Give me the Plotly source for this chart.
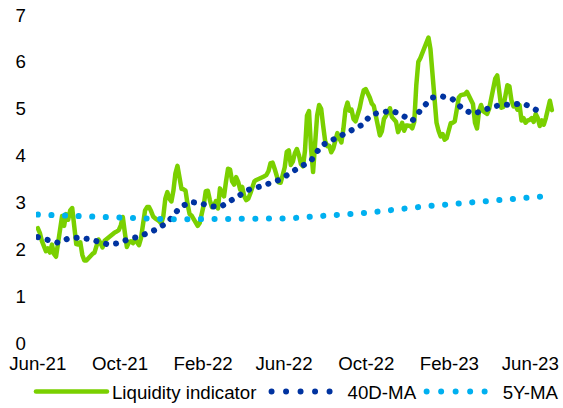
import pandas as pd
import plotly.graph_objects as go

# ---- data ----
liquidity = [
    2.45, 2.35, 2.18, 2.08, 1.96, 2.02, 1.93, 2.10, 1.90, 1.84,
    2.15, 2.52, 2.71, 2.50, 2.75, 2.63, 2.83, 2.88, 2.40, 2.11,
    2.10, 2.15, 1.88, 1.76, 1.76, 1.82, 1.86, 1.90, 1.93, 2.09,
    2.21, 2.13, 2.04, 2.18, 2.22, 2.27, 2.31, 2.34, 2.36, 2.38,
    2.41, 2.51, 2.69, 2.36, 2.05, 2.15, 2.17, 2.13, 2.22, 2.15,
    2.09, 2.24, 2.55, 2.83, 2.90, 2.90, 2.81, 2.70, 2.66, 2.64,
    2.60, 2.55, 2.70, 3.08, 3.22, 3.08, 3.02, 3.25, 3.62, 3.78,
    3.57, 3.29, 3.28, 3.25, 2.96, 2.75, 2.72, 2.65, 2.57, 2.50,
    2.56, 2.75, 2.95, 3.24, 3.25, 3.05, 2.90, 2.93, 3.03, 2.87,
    3.30, 3.20, 3.13, 3.45, 3.72, 3.70, 3.45, 3.38, 3.54, 3.44,
    3.27, 3.33, 3.13, 3.05, 3.08, 3.19, 3.35, 3.45, 3.48, 3.50,
    3.51, 3.52, 3.56, 3.59, 3.67, 3.84, 3.85, 3.72, 3.55, 3.43,
    3.42, 3.55, 3.75, 4.08, 4.11, 3.80, 3.87, 4.05, 4.14, 4.01,
    3.82, 3.77, 4.10, 4.85, 4.95, 4.15, 3.65, 4.25, 4.85, 5.08,
    5.00, 4.63, 4.30, 4.20, 4.21, 4.07, 4.15, 4.32, 4.48, 4.37,
    4.28, 4.58, 4.98, 5.13, 4.96, 4.98, 4.78, 4.73, 4.86, 5.01,
    5.22, 5.39, 5.42, 5.35, 5.24, 5.11, 5.06, 4.85, 4.65, 4.43,
    4.52, 4.78, 4.85, 4.92, 5.01, 4.82, 4.76, 4.72, 4.50, 4.60,
    4.70, 4.53, 4.64, 4.64, 4.63, 4.58, 4.72, 5.50, 6.00, 6.08,
    6.20, 6.33, 6.44, 6.52, 6.27, 5.70, 5.05, 4.70, 4.53, 4.41,
    4.46, 4.34, 4.37, 4.55, 4.69, 4.70, 4.73, 4.98, 5.24, 5.29,
    5.30, 5.31, 5.36, 5.28, 5.21, 5.10, 4.70, 4.58, 4.95, 5.08,
    4.95, 4.92, 4.89, 5.00, 5.22, 5.42, 5.64, 5.71, 5.40, 5.02,
    5.04, 5.28, 5.50, 5.48, 5.18, 5.05, 5.07, 4.98, 5.08, 4.75,
    4.80, 4.70, 4.75, 4.76, 4.80, 4.72, 4.89, 4.80, 4.63, 4.75,
    4.66, 4.80, 5.03, 5.17, 4.97,
]
liquidity_dates = pd.date_range("2021-06-01", periods=len(liquidity), freq="3D")

ma40 = [
    2.26, 2.20, 2.14, 2.23, 2.25, 2.22, 2.16, 2.10, 2.13, 2.22,
    2.27, 2.36, 2.45, 2.62, 2.88, 3.01, 2.99, 2.92, 2.90, 3.03,
    3.17, 3.29, 3.34, 3.40, 3.49, 3.64, 3.78, 3.89, 4.21, 4.32,
    4.43, 4.51, 4.65, 4.88, 4.93, 4.96, 4.86, 4.74, 5.02, 5.24,
    5.26, 5.20, 4.99, 4.89, 4.96, 5.05, 5.08, 5.10, 5.11, 5.00,
    4.90,
]
ma5y = [
    2.74, 2.73, 2.73, 2.72, 2.71, 2.70, 2.69, 2.69, 2.68, 2.67,
    2.66, 2.65, 2.64, 2.64, 2.64, 2.64, 2.64, 2.63, 2.63, 2.63,
    2.63, 2.63, 2.63, 2.64, 2.65, 2.66, 2.68, 2.69, 2.70, 2.71,
    2.73, 2.75, 2.77, 2.79, 2.82, 2.84, 2.86, 2.88, 2.91, 2.93,
    2.95, 2.97, 2.99, 3.01, 3.03, 3.05, 3.07, 3.08, 3.10, 3.11,
    3.13,
]
ma_dates = pd.date_range("2021-06-01", periods=len(ma40), freq="15D")

tick_dates = ["2021-06-01", "2021-10-01", "2022-02-01", "2022-06-01",
              "2022-10-01", "2023-02-01", "2023-06-01"]
tick_labels = ["Jun-21", "Oct-21", "Feb-22", "Jun-22", "Oct-22", "Feb-23", "Jun-23"]
series_names = ["Liquidity indicator", "40D-MA", "5Y-MA"]

# ---- style ----
GREEN = "#7AD000"
DARK = "#0033A0"
LIGHT = "#00B0F0"
FONT = "Liberation Sans, Arial, sans-serif"
FS = 18.7

fig = go.Figure()
fig.add_trace(go.Scatter(x=liquidity_dates, y=liquidity, mode="lines",
                         name=series_names[0] + "\u00a0",
                         line=dict(color=GREEN, width=4.5)))
fig.add_trace(go.Scatter(x=ma_dates, y=ma40, mode="lines", name=series_names[1],
                         line=dict(color=DARK, width=6, dash="0.1px,10px")))
fig.add_trace(go.Scatter(x=ma_dates, y=ma5y, mode="lines", name=series_names[2],
                         line=dict(color=LIGHT, width=6, dash="0.1px,13.5px")))

fig.update_layout(
    width=563, height=408,
    margin=dict(l=36, r=3, t=15, b=65, autoexpand=False),
    paper_bgcolor="white", plot_bgcolor="white",
    font=dict(family=FONT, size=FS, color="#000000"),
    showlegend=True,
    legend=dict(orientation="h", x=-0.0096, xanchor="left",
                y=-0.149, yanchor="middle", itemwidth=71,
                font=dict(family=FONT, size=FS, color="#000000"),
                bgcolor="rgba(0,0,0,0)"),
    xaxis=dict(type="date", range=["2021-05-29 08:00", "2023-07-15"],
               tickmode="array", tickvals=tick_dates, ticktext=tick_labels,
               showgrid=False, zeroline=False, showline=False, ticks="",
               ticklabelstandoff=7, tickfont=dict(size=FS), automargin=False),
    yaxis=dict(range=[0, 7], dtick=1, tick0=0, showgrid=False, zeroline=False,
               showline=False, ticks="", ticklabelstandoff=9,
               tickfont=dict(size=FS), automargin=False),
)

post = """
document.documentElement.style.margin = '0';
document.body.style.margin = '0';
document.body.style.overflow = 'hidden';
var gd = document.getElementById('{plot_id}');
gd.querySelectorAll('path.js-line').forEach(function(p){
  p.style.strokeLinecap = 'round';
  p.style.strokeLinejoin = 'round';
});
var items = gd.querySelectorAll('.legend .traces');
items.forEach(function(t, i){
  if (i > 0) {
    var p = t.querySelector('path.js-line');
    if (p) { p.style.strokeDasharray = '0px,14.5px'; }
  }
});
"""

fig.write_html("out.html", config={"displayModeBar": False}, post_script=post)
